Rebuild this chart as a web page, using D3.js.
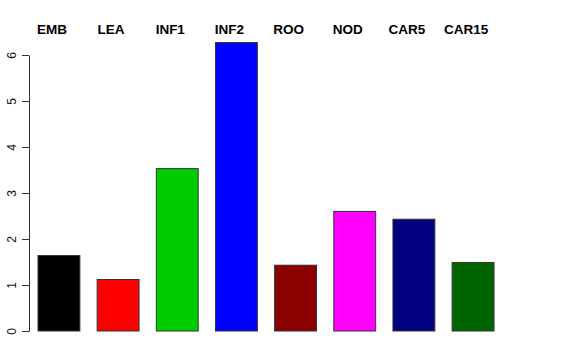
<!DOCTYPE html>
<html>
<head>
<meta charset="utf-8">
<script src="https://d3js.org/d3.v7.min.js"></script>
<style>
  body { margin: 0; background: #fff; }
</style>
</head>
<body>
<svg id="main_canvas" width="576" height="360"></svg>
<script>
    // bar heights
    const categories = ["EMB", "LEA", "INF1", "INF2", "ROO", "NOD", "CAR5", "CAR15"];
    const values = [1.64, 1.12, 3.53, 6.27, 1.43, 2.60, 2.43, 1.49];
    const colors = ["#000000", "#ff0000", "#00cd00", "#0000ff", "#8b0000", "#ff00ff", "#000080", "#006400"];
    const yTicks = [0, 1, 2, 3, 4, 5, 6];

    const svg = d3.select("#main_canvas");

    const x = d3.scaleBand()
        .domain(categories)
        .range([38, 494])
        .paddingInner(0.292)
        .paddingOuter(0);

    const y = d3.scaleLinear()
        .domain([0, 6])
        .range([331, 55]);

    // y axis, R style with rotated labels
    const yAxis = svg.append("g")
        .attr("transform", "translate(29,0)")
        .call(d3.axisLeft(y).tickValues(yTicks).tickSize(7).tickSizeOuter(0).tickFormat(d3.format("d")));
    yAxis.select(".domain").attr("stroke", "#333");
    yAxis.selectAll(".tick line").attr("stroke", "#333");
    yAxis.selectAll(".tick text")
        .attr("x", null).attr("dy", null)
        .attr("transform", "translate(-13,0) rotate(-90)")
        .attr("text-anchor", "middle")
        .attr("font-family", "Liberation Sans, Arial, sans-serif")
        .attr("font-size", 12)
        .attr("fill", "#111");

    svg.append("g")
        .selectAll("rect")
        .data(categories)
        .join("rect")
        .attr("x", d => x(d))
        .attr("y", (d, i) => y(values[i]))
        .attr("width", x.bandwidth())
        .attr("height", (d, i) => y(0) - y(values[i]))
        .attr("fill", (d, i) => colors[i])
        .attr("stroke", "#333")
        .attr("stroke-width", 1);

    // category names across the top
    svg.append("g")
        .selectAll("text")
        .data(categories)
        .join("text")
        .attr("x", d => x(d) + x.bandwidth() / 2 - 7)
        .attr("y", 34)
        .attr("text-anchor", "middle")
        .attr("font-family", "Liberation Sans, Arial, sans-serif")
        .attr("font-weight", "bold")
        .attr("font-size", 13.5)
        .text(d => d);
</script>
</body>
</html>
